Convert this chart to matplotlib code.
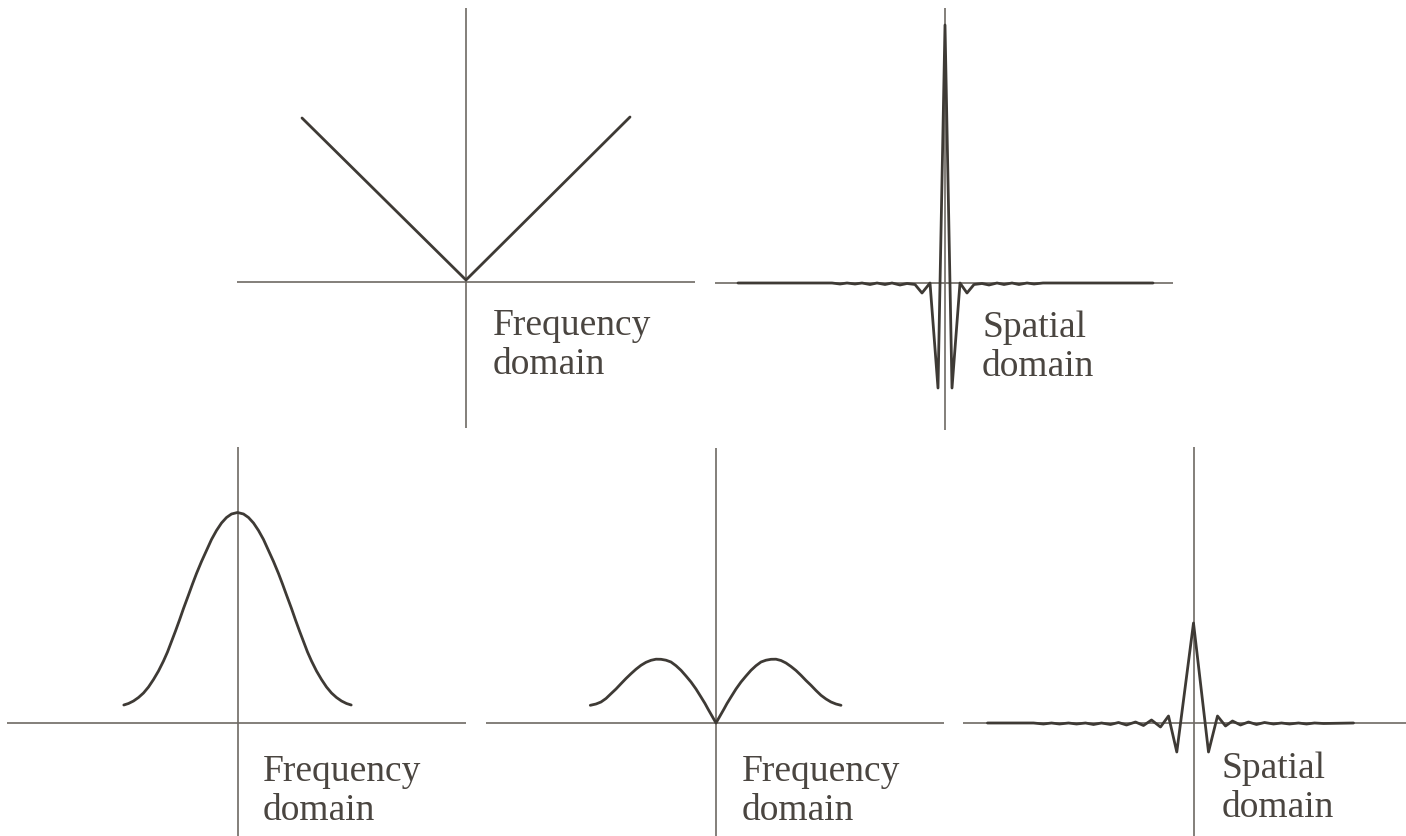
import matplotlib
matplotlib.use("Agg")
import matplotlib.pyplot as plt

# figure size in pixels (dpi 100)
W, H = 1406, 836

# ---- data (offset from origin, height above axis; px units) ----
# top-left: frequency domain |u|
v_x = [-164, 0, 164]
v_y = [164, 2, 165]

# top-right: spatial domain of the |u| filter
sp1_x = [-207, -113, -105, -98, -90, -83, -75, -68, -60, -53, -45, -38, -30, -23, -15,
         -7, 0, 7, 15, 22, 29, 37, 44, 52, 59, 67, 74, 82, 89, 98, 208]
sp1_y = [0, 0, -1, 0, -1, 0, -1.5, 0, -1.5, 0, -2, -0.5, -1.5, -10, 0,
         -105, 258, -105, 0, -10, -1.5, -0.5, -2, 0, -1.5, 0, -1.5, 0, -1, 0, 0]

# bottom-left: gaussian (frequency domain)
g_x = [-113.7, -109, -104, -99, -94, -89, -84, -79, -74, -70, -66, -62, -58, -54, -49,
       -45, -41, -36, -31, -26, -21, -16, -11, -6, 0,
       6, 11, 16, 21, 26, 31, 36, 41, 45, 49, 54, 58, 62, 66, 70, 74, 79, 84, 89, 94,
       99, 104, 109, 113.7]
g_y = [18, 19.5, 22, 25.5, 30, 36, 43.5, 52, 62, 71, 81.5, 92, 103, 114.5, 128,
       139, 149.5, 161.5, 172.5, 183.5, 192.5, 200, 205.5, 209, 210.5,
       209, 205.5, 200, 192.5, 183.5, 172.5, 161.5, 149.5, 139, 128, 114.5, 103, 92,
       81.5, 71, 62, 52, 43.5, 36, 30, 25.5, 22, 19.5, 18]

# bottom-middle: product |u| * gaussian
p_x = [-125.7, -120, -115, -110, -105, -100, -95, -90, -85, -80, -75, -70, -65, -60,
       -55, -50, -45, -40, -35, -30, -25, -20, -15, -11, -8, -4, 0,
       4, 8, 11, 15, 20, 25, 30, 35, 40, 45, 50, 55, 60, 65, 70, 75, 80, 85, 90, 95,
       100, 105, 110, 115, 120, 125]
p_y = [17.7, 19, 21, 24.5, 29.3, 34, 39.3, 44.5, 49.3, 53.8, 57.7, 60.7, 62.7, 63.8,
       63.7, 62.8, 61, 57.3, 52.7, 47, 41, 34, 26, 19.5, 14, 7, 0,
       7, 14, 19.5, 26, 34, 41, 47, 52.7, 57.3, 61, 62.8, 63.7, 63.8, 62.5, 60, 56.5,
       52.5, 47.7, 42.5, 37.7, 32.5, 27.7, 24, 21, 19, 17.7]

# bottom-right: spatial domain of the product
sp2_x = [-206, -160, -150, -142, -134, -125, -117, -108, -100, -92, -83, -75, -67, -58,
         -50, -42, -33, -25, -16.7, 0, 15, 24, 32, 39, 47, 55, 63, 71, 80, 88, 96, 105,
         113, 121, 130, 160]
sp2_y = [0, 0, -1, 0, -1, 0, -1, 0, -1.5, 0, -1.5, 0.5, -2, 1,
         -2.5, 3, -4, 7, -29, 100, -29, 7, -3, 2, -2, 1, -1.5, 0.5, -1, 0, -1, 0,
         -1, 0, -0.5, 0]

labels = [["Frequency", "domain"], ["Spatial", "domain"]]

# ---- layout: panel extents (left, top, right, bottom) and origin, in pixels ----
panels = [
    dict(rect=(237, 8, 695, 428), org=(466, 282), x=v_x, y=v_y, lab=0, tx=493, ty=335),
    dict(rect=(715, 8, 1173, 430), org=(945, 283), x=sp1_x, y=sp1_y, lab=1, tx=982, ty=337),
    dict(rect=(7, 447, 466, 836), org=(237.5, 723), x=g_x, y=g_y, lab=0, tx=263, ty=781),
    dict(rect=(486, 448, 944, 836), org=(716, 723), x=p_x, y=p_y, lab=0, tx=742, ty=781),
    dict(rect=(963, 447, 1406, 836), org=(1193.5, 723), x=sp2_x, y=sp2_y, lab=1, tx=1222, ty=778),
]

axis_color = "#6e6963"
curve_color = "#3e3a35"
text_color = "#4a4540"
line_gap = 39

fig = plt.figure(figsize=(W / 100, H / 100), dpi=100)
fig.patch.set_facecolor("white")

for p in panels:
    l, t, r, b = p["rect"]
    ox, oy = p["org"]
    ax = fig.add_axes([l / W, (H - b) / H, (r - l) / W, (b - t) / H])
    ax.set_xlim(l - ox, r - ox)
    ax.set_ylim(oy - b, oy - t)
    ax.axis("off")
    ax.axhline(0, color=axis_color, lw=1.2, zorder=1)
    ax.axvline(0, color=axis_color, lw=1.2, zorder=1)
    ax.plot(p["x"], p["y"], color=curve_color, lw=2.0, zorder=2,
            solid_joinstyle="round", solid_capstyle="round", clip_on=False)
    first, second = labels[p["lab"]]
    ax.text(p["tx"] - ox, oy - p["ty"], first, family="Liberation Serif",
            fontsize=27, color=text_color, ha="left", va="baseline")
    ax.text(p["tx"] - ox, oy - p["ty"] - line_gap, second, family="Liberation Serif",
            fontsize=27, color=text_color, ha="left", va="baseline")

fig.savefig("out.png", dpi=100)
